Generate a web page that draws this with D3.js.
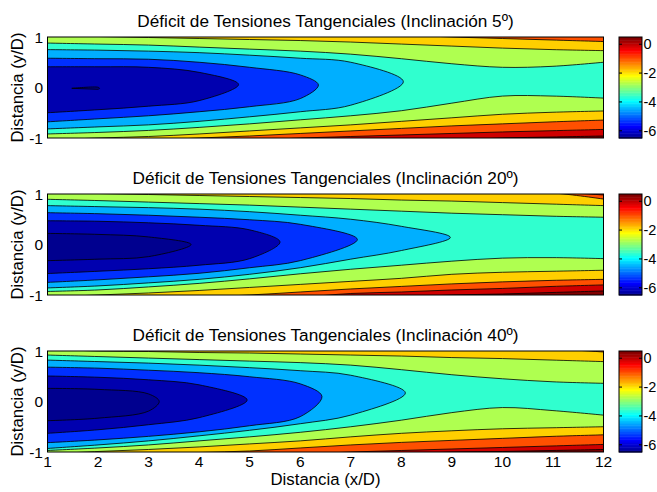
<!DOCTYPE html>
<html>
<head>
<meta charset="utf-8">
<script src="https://cdn.jsdelivr.net/npm/d3@7"></script>
<style>
body{margin:0;background:#fff;}
text{font-family:"Liberation Sans",Arial,sans-serif;fill:#000;}
</style>
</head>
<body>
<svg id="chart" width="657" height="492"></svg>
<script>
// sample positions along x/D where the contour branches were read
var xs = [1,2,3,4,5,6,7,8,9,10,11,12];
var angles = [5,20,40];
var xTicks = [1,2,3,4,5,6,7,8,9,10,11,12];
var yTicks = [1,0,-1];
var cbTicks = [0,-2,-4,-6];
var cbRange = [-6.5,0.5];
// fill colour of each band, lowest level first (jet)
var levelColors = ["#00008f","#0000af","#0030ff","#00afff","#30ffcf","#afff50","#ffcf00","#ff5000","#cf0000","#800000"];

// contour levels L1..L9 : upper branch y, lower branch y, closing points
var top5 = [
  [null,0.005],
  [0.41,0.41,0.40,0.30],
  [0.58,0.57,0.56,0.50,0.40,0.25],
  [0.75,0.74,0.72,0.69,0.64,0.58,0.50],
  [0.88,0.86,0.84,0.80,0.76,0.72,0.66,0.57,0.47,0.40,0.42,0.50],
  [1.04,1.01,0.99,0.97,0.95,0.93,0.90,0.86,0.82,0.78,0.75,0.73],
  [1.04,1.04,1.04,1.04,1.04,1.04,1.04,1.04,1.00,0.97,0.94,0.91],
  [1.04,1.04,1.04,1.04,1.04,1.04,1.04,1.04,1.04,1.04,1.04,1.04],
  [1.04,1.04,1.04,1.04,1.04,1.04,1.04,1.04,1.04,1.04,1.04,1.04]
];
var bot5 = [
  [null,-0.035],
  [-0.50,-0.44,-0.37,-0.26],
  [-0.68,-0.62,-0.56,-0.48,-0.38,-0.22],
  [-0.82,-0.78,-0.74,-0.67,-0.58,-0.48,-0.35],
  [-0.92,-0.89,-0.85,-0.79,-0.72,-0.64,-0.56,-0.46,-0.31,-0.17,-0.17,-0.21],
  [-1.04,-1.00,-0.97,-0.92,-0.86,-0.80,-0.74,-0.67,-0.60,-0.53,-0.49,-0.465],
  [-1.04,-1.04,-1.04,-1.00,-0.96,-0.91,-0.86,-0.81,-0.76,-0.72,-0.68,-0.645],
  [-1.04,-1.04,-1.04,-1.04,-1.04,-1.00,-0.97,-0.94,-0.91,-0.88,-0.855,-0.83],
  [-1.04,-1.04,-1.04,-1.04,-1.04,-1.04,-1.04,-1.04,-1.04,-1.00,-0.98,-0.96]
];
var start5 = [[1.48,-0.016],null,null,null,null,null,null,null,null];
var end5 = [[2.03,-0.016],[4.78,0.06],[6.36,0.05],[8.04,0.115],null,null,null,null,null];

var top20 = [
  [0.22,0.20,0.15],
  [0.47,0.46,0.43,0.38,0.29],
  [0.63,0.61,0.58,0.54,0.49,0.40],
  [0.77,0.75,0.73,0.70,0.65,0.58,0.50,0.36],
  [0.895,0.87,0.84,0.81,0.78,0.74,0.70,0.66,0.62,0.59,0.56,0.54],
  [1.04,1.01,0.99,0.97,0.95,0.93,0.91,0.88,0.86,0.83,0.80,0.77],
  [1.04,1.04,1.04,1.04,1.04,1.04,1.04,1.04,1.04,1.04,1.02,0.90],
  [1.04,1.04,1.04,1.04,1.04,1.04,1.04,1.04,1.04,1.04,1.04,0.98],
  [1.04,1.04,1.04,1.04,1.04,1.04,1.04,1.04,1.04,1.04,1.04,1.04]
];
var bot20 = [
  [-0.32,-0.29,-0.24],
  [-0.575,-0.53,-0.48,-0.41,-0.28],
  [-0.75,-0.70,-0.64,-0.57,-0.46,-0.32],
  [-0.86,-0.82,-0.76,-0.69,-0.59,-0.46,-0.29,-0.12],
  [-0.93,-0.90,-0.84,-0.77,-0.68,-0.58,-0.49,-0.41,-0.33,-0.27,-0.26,-0.28],
  [-1.04,-1.00,-0.96,-0.91,-0.85,-0.79,-0.73,-0.67,-0.59,-0.55,-0.53,-0.51],
  [-1.04,-1.04,-1.04,-1.04,-1.00,-0.94,-0.88,-0.83,-0.78,-0.74,-0.71,-0.69],
  [-1.04,-1.04,-1.04,-1.04,-1.04,-1.04,-0.97,-0.94,-0.90,-0.87,-0.83,-0.80],
  [-1.04,-1.04,-1.04,-1.04,-1.04,-1.04,-1.04,-1.04,-1.00,-0.98,-0.95,-0.92]
];
var start20 = [null,null,null,null,null,null,null,null,null];
var end20 = [[3.84,0.0],[5.6,0.05],[7.13,0.10],[8.97,0.14],null,null,null,null,null];

var top40 = [
  [0.26,0.24,0.15],
  [0.505,0.48,0.43,0.33],
  [0.68,0.66,0.62,0.57,0.49,0.35],
  [0.82,0.79,0.76,0.72,0.67,0.61,0.52],
  [0.92,0.89,0.86,0.83,0.80,0.77,0.72,0.63,0.53,0.45,0.39,0.36],
  [1.04,1.00,0.99,0.97,0.96,0.94,0.92,0.90,0.87,0.85,0.82,0.79],
  [1.04,1.04,1.04,1.04,1.04,1.04,1.04,1.04,1.04,1.04,1.04,0.98],
  [1.04,1.04,1.04,1.04,1.04,1.04,1.04,1.04,1.04,1.04,1.04,1.04],
  [1.04,1.04,1.04,1.04,1.04,1.04,1.04,1.04,1.04,1.04,1.04,1.04]
];
var bot40 = [
  [-0.38,-0.33,-0.19],
  [-0.63,-0.56,-0.46,-0.32],
  [-0.815,-0.76,-0.69,-0.60,-0.48,-0.30],
  [-0.93,-0.86,-0.78,-0.68,-0.57,-0.44,-0.27],
  [-0.97,-0.92,-0.86,-0.78,-0.70,-0.61,-0.50,-0.37,-0.22,-0.12,-0.18,-0.27],
  [-1.04,-0.99,-0.95,-0.90,-0.84,-0.78,-0.70,-0.63,-0.58,-0.54,-0.52,-0.50],
  [-1.04,-1.04,-1.04,-1.01,-0.98,-0.92,-0.86,-0.81,-0.77,-0.73,-0.69,-0.66],
  [-1.04,-1.04,-1.04,-1.04,-1.04,-1.04,-1.00,-0.97,-0.94,-0.91,-0.88,-0.85],
  [-1.04,-1.04,-1.04,-1.04,-1.04,-1.04,-1.04,-1.04,-1.00,-0.99,-0.97,-0.95]
];
var start40 = [null,null,null,null,null,null,null,null,null];
var end40 = [[3.21,0.0],[4.95,0.03],[6.43,0.10],[8.08,0.17],null,null,null,null,null];

var panels = [
  {angle:angles[0], top:top5, bot:bot5, start:start5, end:end5},
  {angle:angles[1], top:top20, bot:bot20, start:start20, end:end20},
  {angle:angles[2], top:top40, bot:bot40, start:start40, end:end40}
];

// matlab jet(64)
function jet(i){
  var r,g,b;
  r = i<=24 ? 0 : i<=40 ? (i-24)/16 : i<=56 ? 1 : 1-(i-56)/16;
  g = i<=8 ? 0 : i<=24 ? (i-8)/16 : i<=40 ? 1 : i<=56 ? 1-(i-40)/16 : 0;
  b = i<=8 ? 0.5+i/16 : i<=24 ? 1 : i<=40 ? 1-(i-24)/16 : 0;
  return d3.rgb(r*255,g*255,b*255).toString();
}

function branch(vals){
  var pts=[];
  for(var i=0;i<vals.length;i++){
    if(vals[i]!=null) pts.push([xs[i],vals[i]]);
  }
  return pts;
}

var svg = d3.select("#chart");
var plotLeft=47.5, plotRight=603.5, plotH=101, gap=157;
var cbLeft=619, cbW=23;
var x = d3.scaleLinear().domain([1,12]).range([plotLeft,plotRight]);

panels.forEach(function(p,k){
  var top = 37 + k*gap;
  var y = d3.scaleLinear().domain([-1,1]).range([top+plotH, top]);
  var line = d3.line()
    .x(function(d){return x(d[0]);})
    .y(function(d){return y(d[1]);})
    .curve(d3.curveCatmullRom.alpha(0.5));

  // every level gives a fill path (value below level) and the contour strokes
  var levels = p.top.map(function(t,j){
    var up = branch(t), down = branch(p.bot[j]);
    if(p.end[j]){
      // closed tongue: one smooth loop through the tip
      var loop = [];
      if(p.start[j]) loop.push(p.start[j]);
      loop = loop.concat(up, [p.end[j]], down.slice().reverse());
      var d = line(loop);
      return {fill: d+"Z", lines: [p.start[j] ? d+"Z" : d]};
    }
    var a = line(up), b = line(down.slice().reverse());
    return {fill: a+"L"+b.slice(1)+"Z", lines: [a, b]};
  });

  svg.append("clipPath").attr("id","clip"+k)
    .append("rect").attr("x",plotLeft).attr("y",top).attr("width",plotRight-plotLeft).attr("height",plotH);
  var area = svg.append("g").attr("clip-path","url(#clip"+k+")");

  area.append("rect")
    .attr("x",plotLeft).attr("y",top)
    .attr("width",plotRight-plotLeft).attr("height",plotH)
    .attr("fill",levelColors[9]);

  // paint from highest level inward
  for(var j=levels.length-1;j>=0;j--){
    area.append("path").attr("d",levels[j].fill).attr("fill",levelColors[j]);
  }
  var strokes = [];
  levels.forEach(function(l){ strokes = strokes.concat(l.lines); });
  area.selectAll("path.cl")
    .data(strokes)
    .enter().append("path")
    .attr("class","cl")
    .attr("d",function(d){return d;})
    .attr("fill","none")
    .attr("stroke","#000")
    .attr("stroke-width",0.8);

  svg.append("rect")
    .attr("x",plotLeft).attr("y",top)
    .attr("width",plotRight-plotLeft).attr("height",plotH)
    .attr("fill","none").attr("stroke","#000").attr("stroke-width",1);

  // title
  svg.append("text")
    .attr("x",(plotLeft+plotRight)/2).attr("y",top-10)
    .attr("text-anchor","middle").attr("font-size",17.2)
    .text("D\u00e9ficit de Tensiones Tangenciales (Inclinaci\u00f3n "+p.angle+"\u00ba)");

  // y axis
  svg.selectAll("text.yt"+k)
    .data(yTicks)
    .enter().append("text")
    .attr("class","yt"+k)
    .attr("x",43).attr("y",function(d){return y(d);})
    .attr("dy","0.36em")
    .attr("text-anchor","end").attr("font-size",15.5)
    .text(function(d){return d;});
  svg.append("text")
    .attr("transform","translate(23,"+(top+plotH/2)+") rotate(-90)")
    .attr("text-anchor","middle").attr("font-size",16.8)
    .text("Distancia (y/D)");

  // colorbar
  var cy = d3.scaleLinear().domain(cbRange).range([top+plotH, top]);
  var steps = d3.range(1,65);
  var dv = (cbRange[1]-cbRange[0])/64;
  svg.selectAll("rect.cb"+k)
    .data(steps)
    .enter().append("rect")
    .attr("class","cb"+k)
    .attr("x",cbLeft).attr("width",cbW)
    .attr("y",function(i){return cy(cbRange[0]+i*dv);})
    .attr("height",function(i){return cy(cbRange[0]+(i-1)*dv)-cy(cbRange[0]+i*dv)+0.5;})
    .attr("fill",function(i){return jet(i);});
  svg.append("rect")
    .attr("x",cbLeft).attr("y",top).attr("width",cbW).attr("height",plotH)
    .attr("fill","none").attr("stroke","#000").attr("stroke-width",1);
  cbTicks.forEach(function(t){
    svg.append("line").attr("x1",cbLeft+cbW-3).attr("x2",cbLeft+cbW)
      .attr("y1",cy(t)).attr("y2",cy(t)).attr("stroke","#000");
    svg.append("line").attr("x1",cbLeft).attr("x2",cbLeft+3)
      .attr("y1",cy(t)).attr("y2",cy(t)).attr("stroke","#000");
  });
  svg.selectAll("text.cbt"+k)
    .data(cbTicks)
    .enter().append("text")
    .attr("class","cbt"+k)
    .attr("x",cbLeft+cbW+1.5).attr("y",function(d){return cy(d);})
    .attr("dy","0.36em").attr("font-size",14.5)
    .text(function(d){return d;});

  if(k==panels.length-1){
    svg.selectAll("text.xt")
      .data(xTicks)
      .enter().append("text")
      .attr("class","xt")
      .attr("x",function(d){return x(d);}).attr("y",top+plotH+15)
      .attr("text-anchor","middle").attr("font-size",15.5)
      .text(function(d){return d;});
    svg.append("text")
      .attr("x",(plotLeft+plotRight)/2).attr("y",top+plotH+33)
      .attr("text-anchor","middle").attr("font-size",16.8)
      .text("Distancia (x/D)");
  }
});
</script>
</body>
</html>
